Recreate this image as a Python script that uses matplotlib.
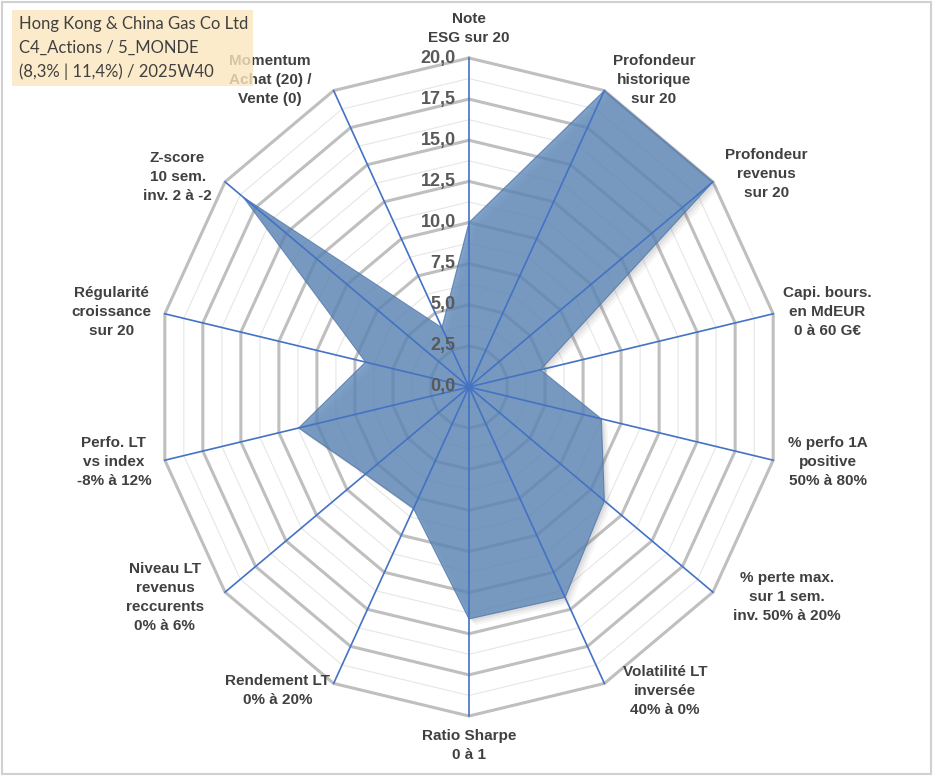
import numpy as np
import matplotlib
matplotlib.use("Agg")
import matplotlib.pyplot as plt
from matplotlib.patches import Polygon, Rectangle

# Axes of the radar (clockwise from top)
labels = [
    "Note\nESG sur 20",
    "Profondeur\nhistorique\nsur 20",
    "Profondeur\nrevenus\nsur 20",
    "Capi. bours.\nen MdEUR\n0 à 60 G€",
    "% perfo 1A\npositive\n50% à 80%",
    "% perte max.\nsur 1 sem.\ninv. 50% à 20%",
    "Volatilité LT\ninversée\n40% à 0%",
    "Ratio Sharpe\n0 à 1",
    "Rendement LT\n0% à 20%",
    "Niveau LT\nrevenus\nreccurents\n0% à 6%",
    "Perfo. LT\nvs index\n-8% à 12%",
    "Régularité\ncroissance\nsur 20",
    "Z-score\n10 sem.\ninv. 2 à -2",
    "Momentum\nAchat (20) /\nVente (0)",
]
scores = [10.0, 20.0, 20.0, 4.7, 8.7, 11.1, 14.2, 14.1, 8.2, 8.5, 11.2, 6.8, 18.5, 4.0]
ring_ticks = [0, 2.5, 5, 7.5, 10, 12.5, 15, 17.5, 20]
title_lines = ["Hong Kong & China Gas Co Ltd", "C4_Actions / 5_MONDE", "(8,3% | 11,4%) / 2025W40"]

# small label shifts in pixels (right, down) to mimic excel's placement
nudge = [(0, -5), (5, -3), (6, -3), (2, 0), (7, 0), (14, 0), (15, 0),
         (0, 5), (0, 0), (-15, 0), (-6, 0), (-6, 0), (-7, 0), (-19, -3)]

n = len(labels)
ang = np.pi / 2 - np.arange(n) * 2 * np.pi / n
cs, sn = np.cos(ang), np.sin(ang)

fig = plt.figure(figsize=(9.33, 7.76), dpi=100)
ax = fig.add_axes([0, 0, 1, 1])
# centre of the radar at (469, 387) px, 20 units = 312 px wide / 329 px high
ax.set_xlim(-469 * 20 / 312, (933 - 469) * 20 / 312)
ax.set_ylim(-(776 - 387) * 20 / 329, 387 * 20 / 329)
ax.axis("off")

# minor rings
for r in np.arange(1.25, 20, 2.5):
    ax.plot(np.append(r * cs, r * cs[0]), np.append(r * sn, r * sn[0]),
            color="#E6E6E6", lw=0.8, zorder=1)
# major rings
for r in ring_ticks[1:]:
    ax.plot(np.append(r * cs, r * cs[0]), np.append(r * sn, r * sn[0]),
            color="#BFBFBF", lw=2.2, zorder=2)

vals = np.array(scores)
px, py = vals * cs, vals * sn

# soft shadow
for k, a in [(1.6, 0.05), (1.1, 0.07), (0.6, 0.09)]:
    ax.add_patch(Polygon(np.column_stack([px + 0.25 * k, py - 0.24 * k]), closed=True,
                         facecolor="#555555", edgecolor="none", alpha=a, zorder=3))
ax.add_patch(Polygon(np.column_stack([px, py]), closed=True, facecolor="#5B86B8",
                     edgecolor="#4F74A8", lw=0.8, alpha=0.78, zorder=4))

# spokes
for c, s in zip(cs, sn):
    ax.plot([0, 20 * c], [0, 20 * s], color="#4472C4", lw=1.2, zorder=5)

# ring values
for r in ring_ticks:
    ax.text(-0.85, r, f"{r:.1f}".replace(".", ","), ha="right", va="center",
            fontsize=13, fontweight="bold", color="#595959",
            family="Liberation Sans", zorder=6)

# axis labels
for lab, c, s, (dx, dy) in zip(labels, cs, sn, nudge):
    if c > 0.2:
        ha, va = "left", "center"
    elif c < -0.2:
        ha, va = "right", "center"
    else:
        ha = "center"
        va = "bottom" if s > 0 else "top"
    ax.annotate(lab, (20.5 * c, 20.5 * s), xytext=(dx * 0.72, -dy * 0.72),
                textcoords="offset points", ha=ha, va=va, multialignment="center",
                fontsize=11, fontweight="bold", color="#404040",
                family="Liberation Sans", linespacing=1.45, zorder=6)

# title box (drawn over the labels)
fig.patches.append(Rectangle((12 / 933, 1 - 86 / 776), 241 / 933, 76 / 776,
                             transform=fig.transFigure, facecolor="#FCE6BE",
                             edgecolor="none", alpha=0.8, zorder=10))
for i, t in enumerate(title_lines):
    fig.text(19 / 933, 1 - (24 + 24 * i) / 776, t, ha="left", va="center",
             fontsize=12, color="#404040", family="Lato", zorder=11)

# chart border
fig.patches.append(Rectangle((2 / 933, 2 / 776), 929 / 933, 772 / 776,
                             transform=fig.transFigure, facecolor="none",
                             edgecolor="#D0D0D0", lw=1.5, zorder=12))

fig.savefig("out.png", dpi=100)
